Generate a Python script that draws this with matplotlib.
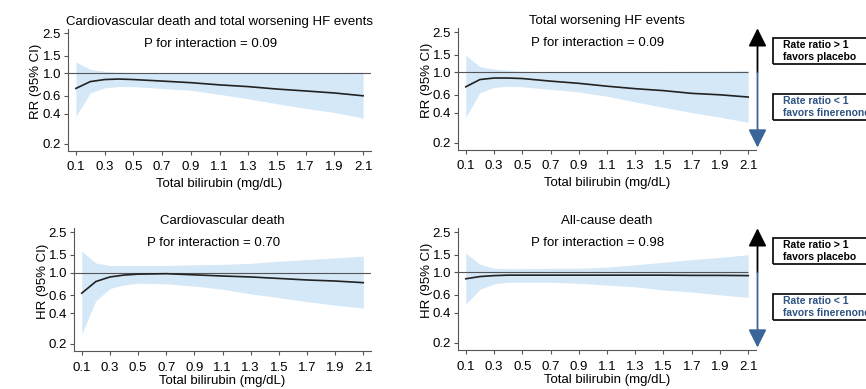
import numpy as np
import matplotlib
matplotlib.use("Agg")
import matplotlib.pyplot as plt
from matplotlib.patches import Rectangle

plt.rcParams['font.family'] = ['Liberation Sans', 'DejaVu Sans']

# bilirubin grid (mg/dL)
bili = [0.1, 0.2, 0.3, 0.4, 0.5, 0.7, 0.9, 1.1, 1.3, 1.5, 1.7, 1.9, 2.1]

# CV death and total worsening HF events
est1 = [0.71, 0.83, 0.87, 0.88, 0.87, 0.84, 0.81, 0.77, 0.74, 0.70, 0.67, 0.64, 0.60]
low1 = [0.375, 0.64, 0.72, 0.74, 0.74, 0.71, 0.68, 0.62, 0.56, 0.50, 0.45, 0.41, 0.36]
upp1 = [1.30, 1.10, 1.05, 1.03, 1.02, 1.00, 1.00, 1.00, 1.01, 1.01, 1.02, 1.02, 1.03]

# total worsening HF events
est2 = [0.72, 0.85, 0.88, 0.88, 0.87, 0.82, 0.78, 0.73, 0.69, 0.66, 0.62, 0.60, 0.57]
low2 = [0.36, 0.63, 0.71, 0.73, 0.72, 0.68, 0.64, 0.58, 0.51, 0.45, 0.40, 0.36, 0.32]
upp2 = [1.48, 1.14, 1.08, 1.05, 1.03, 1.01, 1.00, 1.00, 1.01, 1.02, 1.03, 1.03, 1.04]

# cardiovascular death
est3 = [0.63, 0.82, 0.91, 0.95, 0.97, 0.98, 0.955, 0.93, 0.91, 0.88, 0.85, 0.83, 0.80]
low3 = [0.25, 0.53, 0.70, 0.76, 0.79, 0.78, 0.74, 0.69, 0.62, 0.57, 0.52, 0.48, 0.45]
upp3 = [1.63, 1.25, 1.18, 1.18, 1.18, 1.18, 1.20, 1.21, 1.24, 1.30, 1.35, 1.40, 1.46]

# all-cause death
est4 = [0.865, 0.91, 0.93, 0.94, 0.94, 0.94, 0.94, 0.94, 0.94, 0.94, 0.935, 0.935, 0.93]
low4 = [0.485, 0.68, 0.77, 0.80, 0.80, 0.80, 0.78, 0.75, 0.72, 0.67, 0.64, 0.60, 0.565]
upp4 = [1.55, 1.21, 1.10, 1.09, 1.09, 1.10, 1.10, 1.13, 1.19, 1.26, 1.34, 1.41, 1.50]

titles = ["Cardiovascular death and total worsening HF events", "Total worsening HF events",
          "Cardiovascular death", "All-cause death"]
ylabels = ["RR (95% CI)", "RR (95% CI)", "HR (95% CI)", "HR (95% CI)"]
pvals = ["0.09", "0.09", "0.70", "0.98"]

xticks = [0.1, 0.3, 0.5, 0.7, 0.9, 1.1, 1.3, 1.5, 1.7, 1.9, 2.1]
yticks = [0.2, 0.4, 0.6, 1.0, 1.5, 2.5]

W, H = 866, 389
fig = plt.figure(figsize=(W / 100, H / 100), dpi=100)

def px_axes(left, top, right, bottom):
    return fig.add_axes([left / W, 1 - bottom / H, (right - left) / W, (bottom - top) / H])

boxes = [(68, 29, 371, 151), (458, 28, 756, 150), (74, 228, 371, 351), (458, 228, 756, 350)]
series = [(est1, low1, upp1), (est2, low2, upp2), (est3, low3, upp3), (est4, low4, upp4)]

fill_col = '#d5e8f7'
blue = '#3a6599'
txt_blue = '#2e5384'

for i in range(4):
    ax = px_axes(*boxes[i])
    est, low, upp = series[i]
    ax.fill_between(bili, low, upp, color=fill_col, lw=0)
    hx = 2.155 if i in (0, 2) else 2.1
    ax.hlines(1.0, 0.045, hx, color='#555555', lw=0.8)
    ax.plot(bili, est, color='#222222', lw=1.2)
    ax.set_yscale('log')
    ax.set_ylim(0.17, 2.76)
    ax.set_xlim(0.045, 2.155)
    ax.set_yticks(yticks)
    ax.set_yticklabels([f"{v:.1f}" for v in yticks])
    ax.minorticks_off()
    ax.set_xticks(xticks)
    ax.set_xticklabels([f"{v:.1f}" for v in xticks])
    for s in ['top', 'right']:
        ax.spines[s].set_visible(False)
    for s in ['left', 'bottom']:
        ax.spines[s].set_color('#555555')
        ax.spines[s].set_linewidth(0.8)
    top_row = i < 2
    ax.tick_params(length=3, width=0.8, color='#555555', labelsize=9.5)
    ax.tick_params(axis='y', pad=2)
    ax.tick_params(axis='x', pad=4 if top_row else 5)
    ax.set_title(titles[i], fontsize=9.5, pad=3)
    ax.text(0.47, 0.88, "P for interaction = " + pvals[i], transform=ax.transAxes,
            ha='center', va='center', fontsize=9.5)
    ax.set_xlabel("Total bilirubin (mg/dL)", fontsize=9.5, labelpad=4 if top_row else 0.5)
    ax.set_ylabel(ylabels[i], fontsize=9.5)
    ax.yaxis.set_label_coords(-0.085, 0.57)

    if not (i % 2):
        continue
    tr = ax.get_yaxis_transform()
    ax.annotate("", xy=(1.005, 2.74), xytext=(1.005, 1.0), xycoords=tr, textcoords=tr,
                arrowprops=dict(arrowstyle='-|>,head_width=0.55,head_length=1.1',
                                color='black', lw=1.3, shrinkA=0, shrinkB=0),
                annotation_clip=False)
    ax.annotate("", xy=(1.005, 0.18), xytext=(1.005, 1.0), xycoords=tr, textcoords=tr,
                arrowprops=dict(arrowstyle='-|>,head_width=0.55,head_length=1.1',
                                color=blue, lw=1.3, shrinkA=0, shrinkB=0),
                annotation_clip=False)
    # legend boxes run off the right edge, as in the original
    top = boxes[i][1]
    for lab, col, y0 in [("Rate ratio > 1\nfavors placebo", 'black', top + 10),
                         ("Rate ratio < 1\nfavors finerenone", txt_blue, top + 66)]:
        fig.patches.append(Rectangle((773 / W, 1 - (y0 + 26) / H), 110 / W, 26 / H,
                                     transform=fig.transFigure, fill=False,
                                     ec='black', lw=1.2, clip_on=False))
        fig.text(783 / W, 1 - (y0 + 13) / H, lab, color=col, fontsize=7.5,
                 fontweight='bold', ha='left', va='center', linespacing=1.2)

fig.savefig("out.png", dpi=100)
